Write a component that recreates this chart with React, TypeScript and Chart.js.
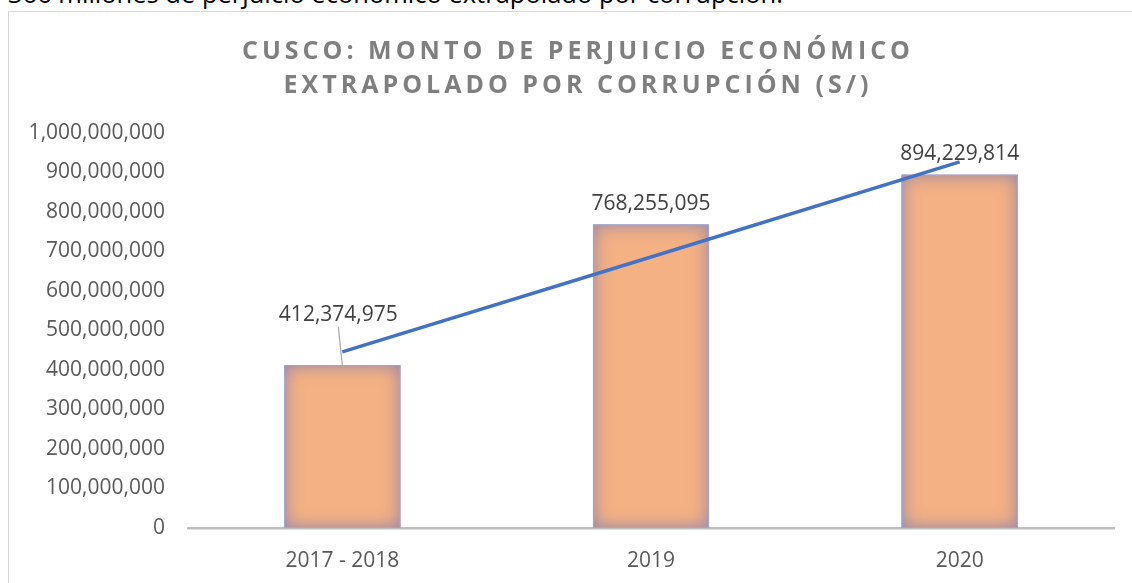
import React, { useEffect, useRef } from 'react';
import { Chart, registerables } from 'chart.js';

Chart.register(...registerables);

// ---- data ----
const categories = ['2017 - 2018', '2019', '2020'];
const montos = [412374975, 768255095, 894229814];
const tendencia = [446000000, 686000000, 927000000]; // linear trend
const yMin = 0;
const yMax = 1000000000;
const yStep = 100000000;
const titleLines = ['CUSCO: MONTO DE PERJUICIO ECONÓMICO', 'EXTRAPOLADO POR CORRUPCIÓN (S/)'];
const topText = '366 millones de perjuicio económico extrapolado por corrupción.';

const FONT = '"Open Sans", "Noto Sans", sans-serif';
const fmt = (n: number) => Math.round(n).toLocaleString('en-US');

const titlePlugin = {
  id: 'spacedTitle',
  afterDraw(chart: any) {
    const ctx = chart.ctx as any;
    ctx.save();
    ctx.font = `bold 25px ${FONT}`;
    ctx.fillStyle = '#7F7F7F';
    ctx.textBaseline = 'alphabetic';
    ctx.textAlign = 'left';
    ctx.letterSpacing = '0px';
    const w0 = ctx.measureText(titleLines[0]).width;
    const spacing = Math.max(0, (668 - w0) / (titleLines[0].length - 1));
    const cx = 576;
    const baselines = [59, 93];
    titleLines.forEach((line, i) => {
      ctx.letterSpacing = '0px';
      const w = ctx.measureText(line).width;
      const total = w + spacing * (line.length - 1);
      ctx.letterSpacing = spacing + 'px';
      ctx.fillText(line, cx - total / 2, baselines[i]);
    });
    ctx.letterSpacing = '0px';
    ctx.restore();
  },
};

const glowPlugin = {
  id: 'barGlow',
  afterDatasetDraw(chart: any, args: any) {
    if (args.index !== 0) return;
    const meta = chart.getDatasetMeta(0);
    const ctx = chart.ctx;
    meta.data.forEach((el: any) => {
      const { x, y, base, width } = el.getProps(['x', 'y', 'base', 'width'], true);
      const left = x - width / 2;
      const top = Math.min(y, base);
      const h = Math.abs(base - y);
      ctx.save();
      ctx.beginPath();
      ctx.rect(left, top, width, h);
      ctx.clip();
      ctx.shadowColor = 'rgba(110, 118, 185, 0.8)';
      ctx.shadowBlur = 18;
      ctx.lineWidth = 20;
      ctx.strokeStyle = 'rgba(110,118,185,1)';
      ctx.strokeRect(left - 10, top - 10, width + 20, h + 20);
      ctx.restore();
      ctx.save();
      ctx.strokeStyle = 'rgba(150,170,225,0.9)';
      ctx.lineWidth = 1;
      ctx.strokeRect(left + 0.5, top + 0.5, width - 1, h - 1);
      ctx.restore();
    });
  },
};

const labelPlugin = {
  id: 'valueLabels',
  afterDatasetsDraw(chart: any) {
    const meta = chart.getDatasetMeta(0);
    const ctx = chart.ctx;
    ctx.save();
    ctx.font = `21px ${FONT}`;
    ctx.fillStyle = '#404040';
    ctx.textAlign = 'center';
    ctx.textBaseline = 'alphabetic';
    meta.data.forEach((el: any, i: number) => {
      const { x, y } = el.getProps(['x', 'y'], true);
      const text = fmt(montos[i]);
      if (i === 0) {
        const lx = x - 4;
        const ly = y - 44;
        ctx.fillText(text, lx, ly);
        ctx.save();
        ctx.strokeStyle = '#A6A6A6';
        ctx.lineWidth = 1.2;
        ctx.beginPath();
        ctx.moveTo(lx, ly + 6);
        ctx.lineTo(x, y);
        ctx.stroke();
        ctx.restore();
      } else {
        ctx.fillText(text, x, y - 15);
      }
    });
    ctx.restore();
  },
};

export default function App() {
  const ref = useRef<HTMLCanvasElement | null>(null);

  useEffect(() => {
    document.body.style.margin = '0';
    if (!ref.current) return;
    const chart = new Chart(ref.current, {
      type: 'bar',
      data: {
        labels: categories,
        datasets: [
          {
            type: 'bar',
            label: 'Monto',
            data: montos,
            backgroundColor: '#F4B183',
            borderWidth: 0,
            barPercentage: 0.376,
            categoryPercentage: 1,
            order: 2,
          } as any,
          {
            type: 'line',
            label: 'Tendencia',
            data: tendencia,
            borderColor: '#4472C4',
            borderWidth: 3.5,
            pointRadius: 0,
            tension: 0,
            fill: false,
            order: 1,
          } as any,
        ],
      },
      options: {
        animation: false,
        responsive: false,
        devicePixelRatio: 1,
        layout: { padding: { left: 0, top: 133, right: 18, bottom: 0 } },
        plugins: {
          legend: { display: false },
          title: { display: false },
          tooltip: { enabled: false },
        },
        scales: {
          x: {
            grid: { display: false },
            border: { display: true, color: '#BFBFBF', width: 2.5 },
            ticks: { color: '#595959', font: { family: FONT, size: 21 }, padding: 12 },
            afterFit: (s: any) => {
              s.height = 55;
            },
          },
          y: {
            min: yMin,
            max: yMax,
            grid: { display: false },
            border: { display: false },
            ticks: {
              stepSize: yStep,
              color: '#595959',
              font: { family: FONT, size: 21 },
              padding: 15,
              callback: (v: any) => fmt(Number(v)),
            },
            afterFit: (s: any) => {
              s.width = 188;
            },
          },
        },
      },
      plugins: [glowPlugin, labelPlugin, titlePlugin],
    });
    return () => chart.destroy();
  }, []);

  return (
    <div style={{ position: 'relative', width: 1132, height: 583, overflow: 'hidden', background: '#fff' }}>
      <div
        style={{
          position: 'absolute',
          left: 8,
          top: -18.7,
          fontFamily: FONT,
          fontSize: 25.5,
          lineHeight: '25.5px',
          color: '#000',
          whiteSpace: 'nowrap',
        }}
      >
        {topText}
      </div>
      <div
        style={{
          position: 'absolute',
          left: 8,
          top: 11,
          width: 1140,
          height: 600,
          borderLeft: '1.5px solid #D9D9D9',
          borderTop: '1.5px solid #D9D9D9',
        }}
      />
      <canvas ref={ref} width={1132} height={583} style={{ position: 'absolute', left: 0, top: 0 }} />
    </div>
  );
}
